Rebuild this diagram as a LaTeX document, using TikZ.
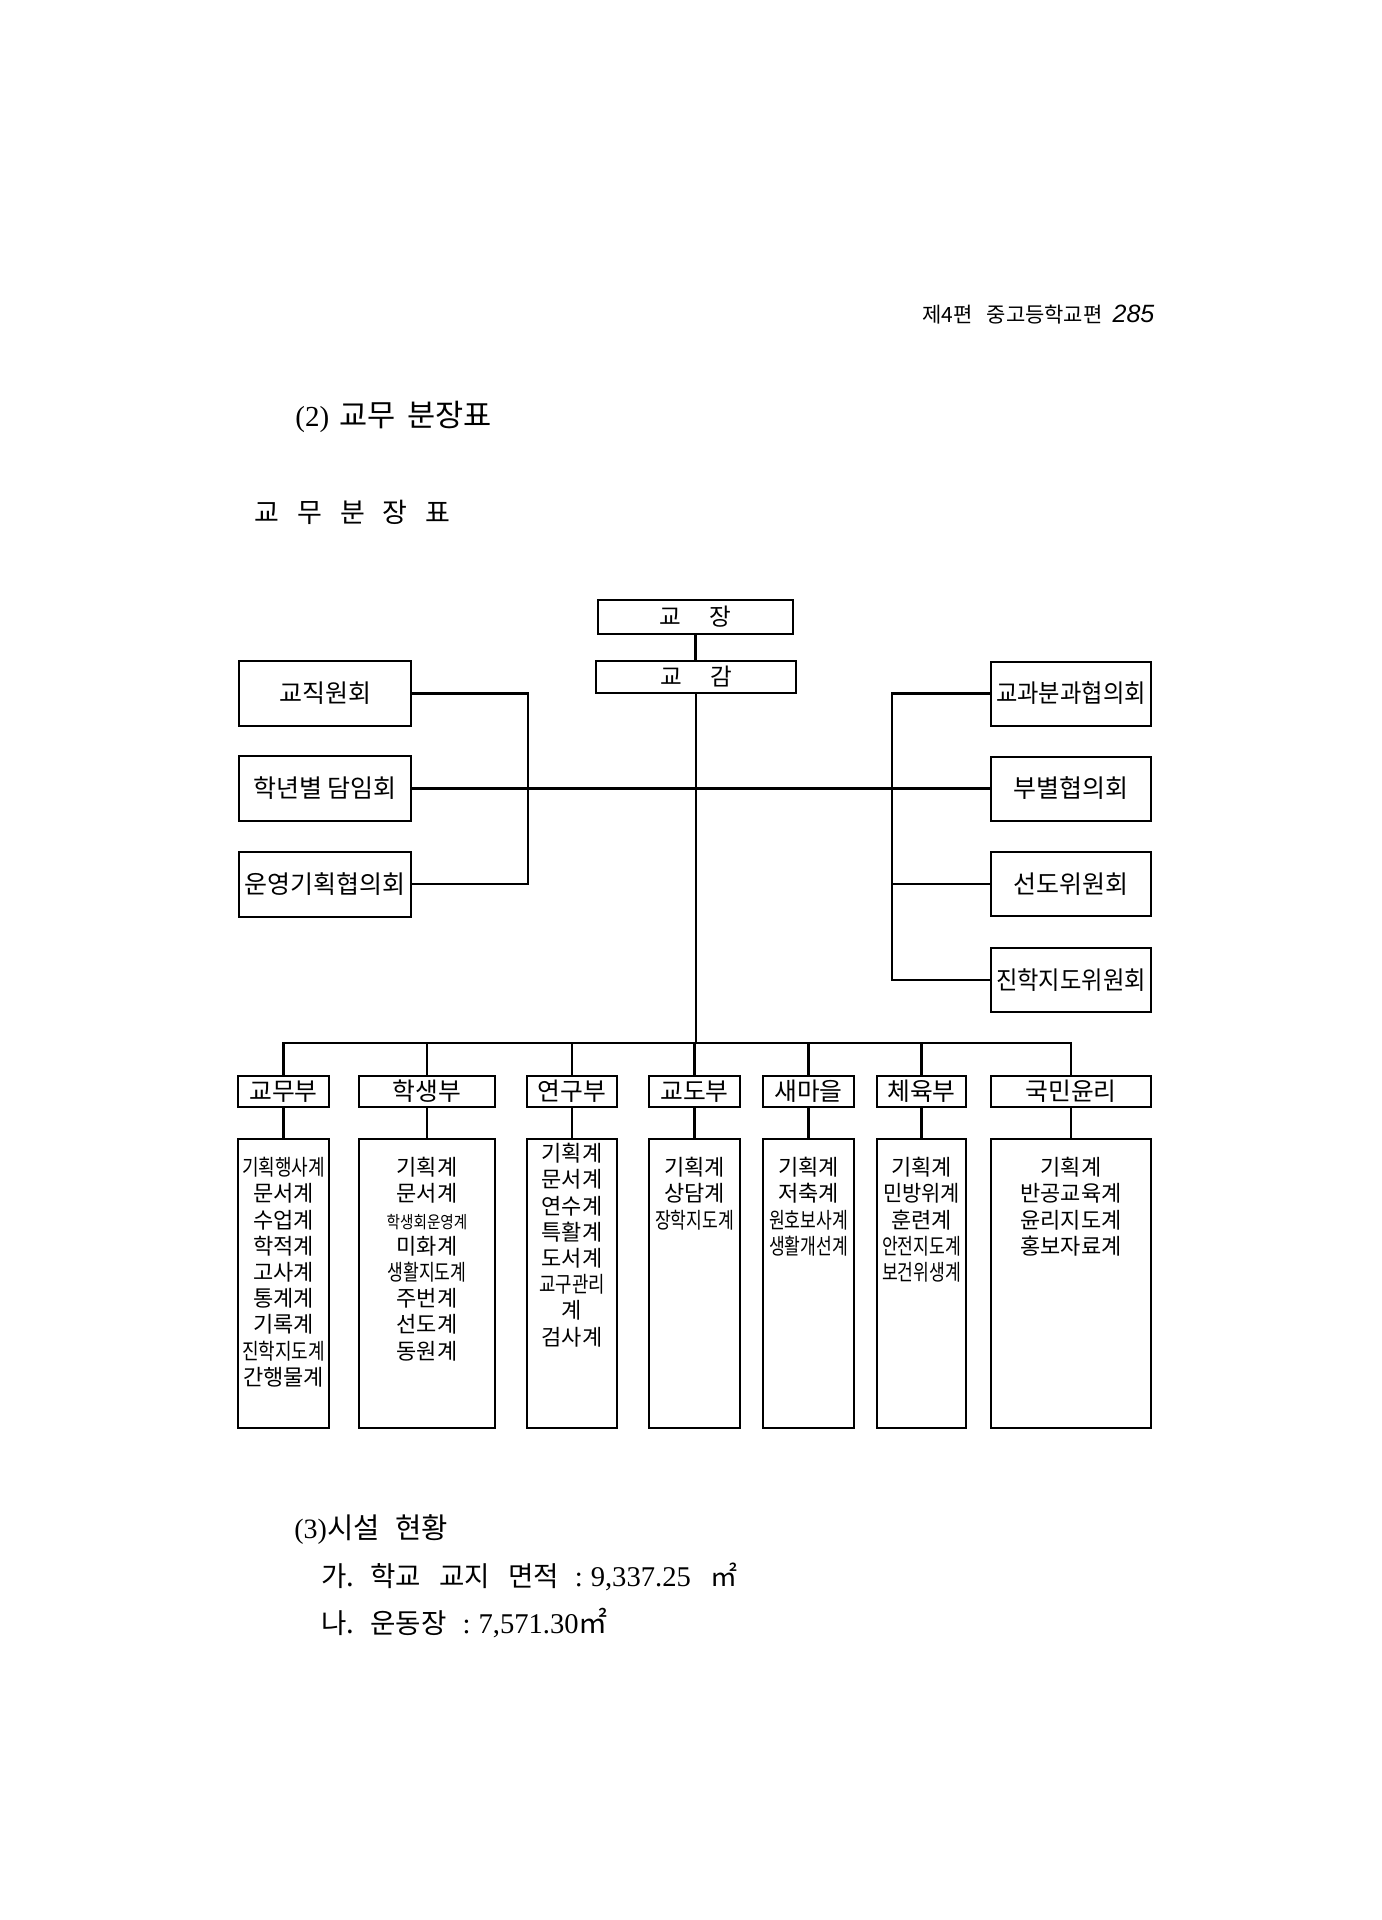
\documentclass[tikz,border=0pt]{standalone}
\usepackage{fontspec}
\usepackage{graphicx}
\setmainfont{Liberation Serif}
\newfontfamily\kr{Noto Sans CJK KR}
\newfontfamily\lsans{Liberation Sans}
\newcommand{\narrowtxt}[2][0.78]{\scalebox{#1}[1]{#2}}
\newcommand{\krs}[1]{\kr\fontsize{#1}{16}\selectfont}
\newcommand{\rms}[1]{\rmfamily\fontsize{#1}{16}\selectfont}
\begin{document}
\begin{tikzpicture}[x=0.5pt,y=-0.5pt,
  box/.style={draw, line width=1pt, inner sep=0pt, font=\kr\fontsize{12.5}{14}\selectfont},
  dbox/.style={box, minimum height=15.5pt, font=\kr\fontsize{12.4}{14}\selectfont},
  lbox/.style={draw, line width=1pt, inner sep=0pt, minimum height=144.5pt},
  ltext/.style={anchor=north, inner sep=0pt, align=center, font=\kr\fontsize{11}{13.1}\selectfont},
  conn/.style={line width=1.1pt},
  plain/.style={anchor=west, inner sep=0pt}]
\fill[white] (0,0) rectangle (1381,1920);
\useasboundingbox (0,0) rectangle (1381,1920);

% page texts
\node[plain] (hdr) at (922,315) {{\krs{10.5}제4편\hspace{7pt}중고등학교편}\hspace{5pt}{\lsans\itshape\fontsize{12.5}{14}\selectfont 285}};
\node[plain] (sec2) at (295,417) {{\rms{14.5}(2)}\hspace{5pt}{\krs{15.3}교무\hspace{6pt}분장표}};
\node[plain, font=\kr\fontsize{13.5}{16}\selectfont] (ttl) at (254,512) {교\hspace{9pt}무\hspace{9pt}분\hspace{9pt}장\hspace{9pt}표};

% top boxes
\node[box, minimum width=97.5pt, minimum height=17pt, font=\kr\fontsize{11.8}{13}\selectfont] (gj) at (695.5,617) {교\hspace{14pt}장};
\node[box, minimum width=100pt, minimum height=16pt, font=\kr\fontsize{11.8}{13}\selectfont] (gg) at (696,677) {교\hspace{14pt}감};

% left committees
\node[box, minimum width=86pt, minimum height=32.5pt] (L1) at (325,693.5) {교직원회};
\node[box, minimum width=86pt, minimum height=32.5pt] (L2) at (325,788.5) {학년별 담임회};
\node[box, minimum width=86pt, minimum height=32.5pt] (L3) at (325,884) {운영기획협의회};

% right committees
\node[box, minimum width=80pt, minimum height=32pt] (R1) at (1071,693.5) {\narrowtxt[0.93]{교과분과협의회}};
\node[box, minimum width=80pt, minimum height=32pt] (R2) at (1071,788.5) {부별협의회};
\node[box, minimum width=80pt, minimum height=32pt] (R3) at (1071,884) {선도위원회};
\node[box, minimum width=80pt, minimum height=32pt] (R4) at (1071,980) {\narrowtxt[0.93]{진학지도위원회}};

% departments
\node[dbox, minimum width=45.5pt] (D1) at (283.5,1091.5) {교무부};
\node[dbox, minimum width=68pt]   (D2) at (427,1091.5) {학생부};
\node[dbox, minimum width=45pt]   (D3) at (572,1091.5) {연구부};
\node[dbox, minimum width=45.5pt] (D4) at (694.5,1091.5) {교도부};
\node[dbox, minimum width=45.5pt] (D5) at (808.5,1091.5) {새마을};
\node[dbox, minimum width=44.5pt] (D6) at (921.5,1091.5) {체육부};
\node[dbox, minimum width=80pt]   (D7) at (1071,1091.5) {국민윤리};

% list boxes
\node[lbox, minimum width=45.5pt] (S1) at (283.5,1283.5) {};
\node[lbox, minimum width=68pt]   (S2) at (427,1283.5) {};
\node[lbox, minimum width=45pt]   (S3) at (572,1283.5) {};
\node[lbox, minimum width=45.5pt] (S4) at (694.5,1283.5) {};
\node[lbox, minimum width=45.5pt] (S5) at (808.5,1283.5) {};
\node[lbox, minimum width=44.5pt] (S6) at (921.5,1283.5) {};
\node[lbox, minimum width=80pt]   (S7) at (1071,1283.5) {};

% list texts
\node[ltext] (T1) at ([yshift=-9.5pt]S1.north) {\narrowtxt[0.82]{기획행사계}\\문서계\\수업계\\학적계\\고사계\\통계계\\기록계\\\narrowtxt[0.82]{진학지도계}\\간행물계};
\node[ltext] (T2) at ([yshift=-9.5pt]S2.north) {기획계\\문서계\\\narrowtxt[0.86]{\fontsize{8.5}{13}\selectfont 학생회운영계}\\미화계\\\narrowtxt[0.78]{생활지도계}\\주번계\\선도계\\동원계};
\node[ltext] (T3) at ([yshift=-2.5pt]S3.north) {기획계\\문서계\\연수계\\특활계\\도서계\\\narrowtxt[0.81]{교구관리}\\계\\검사계};
\node[ltext] (T4) at ([yshift=-9.5pt]S4.north) {기획계\\상담계\\\narrowtxt{장학지도계}};
\node[ltext] (T5) at ([yshift=-9.5pt]S5.north) {기획계\\저축계\\\narrowtxt{원호보사계}\\\narrowtxt{생활개선계}};
\node[ltext] (T6) at ([yshift=-9.5pt]S6.north) {기획계\\\narrowtxt[0.95]{민방위계}\\훈련계\\\narrowtxt{안전지도계}\\\narrowtxt{보건위생계}};
\node[ltext] (T7) at ([yshift=-9.5pt]S7.north) {기획계\\반공교육계\\윤리지도계\\홍보자료계};

% facility texts
\node[plain] (f1) at (294,1530) {{\rms{14}(3)}{\krs{14.3}시설\hspace{8pt}현황}};
\node[plain] (f2) at (321,1577) {{\krs{13.8}가.\hspace{8pt}학교\hspace{9pt}교지\hspace{9pt}면적\hspace{8pt}}{\rms{14.3}:\hspace{4pt}9,337.25\hspace{10pt}}{\krs{13.5}㎡}};
\node[plain] (f3) at (321,1623) {{\krs{13.8}나.\hspace{8pt}운동장\hspace{8pt}}{\rms{14.3}:\hspace{4pt}7,571.30}{\krs{14.5}㎡}};

% connectors
\coordinate (lv) at (528,0);
\coordinate (rv) at (892,0);
\coordinate (bus) at (694,1043);
\draw[conn] (gj.south) -- (gj.south |- gg.north);
\draw[conn] (gg.south) -- (gg.south |- bus);
\draw[conn] (L1.east) -- (L1.east -| lv) -- (L3.east -| lv) -- (L3.east);
\draw[conn] (L2.east) -- (R2.west);
\draw[conn] (R1.west) -- (R1.west -| rv) -- (R4.west -| rv) -- (R4.west);
\draw[conn] (R3.west) -- (R3.west -| rv);
\draw[conn] (D1.north) -- (D1.north |- bus) -- (D7.north |- bus) -- (D7.north);
\foreach \k in {2,...,6} {\draw[conn] (D\k.north) -- (D\k.north |- bus);}
\foreach \k in {1,...,7} {\draw[conn] (D\k.south) -- (S\k.north);}
\end{tikzpicture}
\end{document}
